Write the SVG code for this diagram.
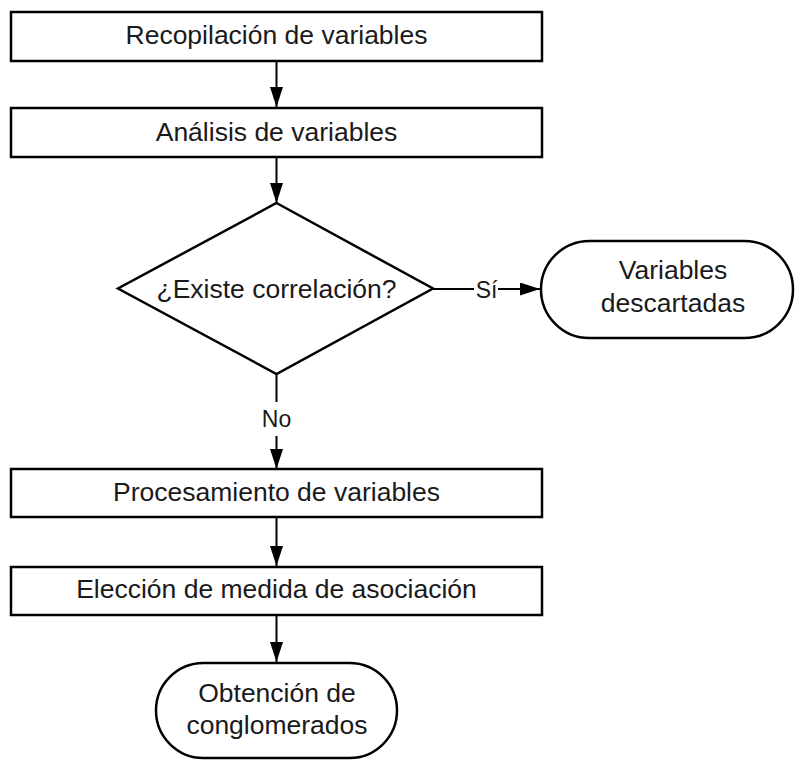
<svg xmlns="http://www.w3.org/2000/svg" width="795" height="760" viewBox="0 0 795 760">
<style>
.n{fill:#fff;stroke:#000;stroke-width:2.5}
.t{font-family:"Liberation Sans",Arial,sans-serif;font-size:26.5px;fill:#1a1a1a;text-anchor:middle}
.s{font-family:"Liberation Sans",Arial,sans-serif;font-size:23px;fill:#1a1a1a;text-anchor:middle}
.c{fill:none;stroke:#000;stroke-width:2}
</style>
<defs>
<marker id="ah" markerUnits="userSpaceOnUse" markerWidth="21" markerHeight="14" refX="20" refY="6.5" orient="auto">
<path d="M0,0 L20,6.5 L0,13 z" fill="#000"/>
</marker>
</defs>
<rect width="795" height="760" fill="#fff"/>
<g id="connectors">
<line class="c" x1="276.5" y1="61" x2="276.5" y2="107" marker-end="url(#ah)"/>
<line class="c" x1="276.5" y1="157" x2="276.5" y2="203" marker-end="url(#ah)"/>
<line class="c" x1="432" y1="289" x2="474" y2="289"/>
<text class="s" x="486.5" y="297.5">Sí</text>
<line class="c" x1="498" y1="289" x2="540" y2="289" marker-end="url(#ah)"/>
<line class="c" x1="276.5" y1="374" x2="276.5" y2="402"/>
<text class="s" x="276.5" y="427">No</text>
<line class="c" x1="276.5" y1="436" x2="276.5" y2="469" marker-end="url(#ah)"/>
<line class="c" x1="276.5" y1="517" x2="276.5" y2="566" marker-end="url(#ah)"/>
<line class="c" x1="276.5" y1="615" x2="276.5" y2="662" marker-end="url(#ah)"/>
</g>
<g id="recopilacion">
<rect class="n" x="11" y="12" width="531" height="49"/>
<text class="t" x="276.5" y="44">Recopilación de variables</text>
</g>
<g id="analisis">
<rect class="n" x="11" y="108" width="531" height="49"/>
<text class="t" x="276.5" y="141">Análisis de variables</text>
</g>
<g id="decision">
<polygon class="n" points="276.5,203 433,288.5 276.5,374 118,288.5"/>
<text class="t" x="276.5" y="298">¿Existe correlación?</text>
</g>
<g id="descartadas">
<rect class="n" x="541" y="241" width="252" height="97" rx="48.5" ry="48.5"/>
<text class="t" x="673" y="279">Variables</text>
<text class="t" x="673" y="312">descartadas</text>
</g>
<g id="procesamiento">
<rect class="n" x="11" y="469" width="531" height="48"/>
<text class="t" x="276.5" y="501">Procesamiento de variables</text>
</g>
<g id="eleccion">
<rect class="n" x="11" y="567" width="531" height="48"/>
<text class="t" x="276.5" y="598">Elección de medida de asociación</text>
</g>
<g id="obtencion">
<rect class="n" x="156" y="663" width="241" height="95" rx="47.5" ry="47.5"/>
<text class="t" x="277" y="702">Obtención de</text>
<text class="t" x="277" y="734">conglomerados</text>
</g>
</svg>
